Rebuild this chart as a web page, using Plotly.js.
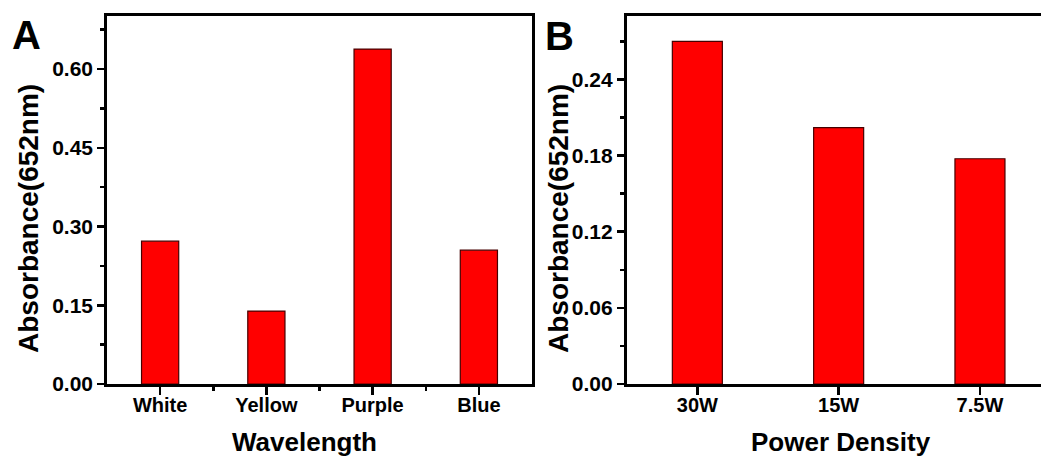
<!DOCTYPE html>
<html>
<head>
<meta charset="utf-8">
<script src="https://cdn.plot.ly/plotly-3.0.1.min.js"></script>
<style>
  html, body { margin: 0; padding: 0; background: #fff; }
  #chart { width: 1041px; height: 456px; }
</style>
</head>
<body>
<div id="chart"></div>
<script>
// Panel A: absorbance at 652 nm under different light wavelengths
const lightSources = ['White', 'Yellow', 'Purple', 'Blue'];
const absorbanceByLight = [0.272, 0.139, 0.638, 0.255];

// Panel B: absorbance at 652 nm under different power densities
const powerLevels = ['30W', '15W', '7.5W'];
const absorbanceByPower = [0.270, 0.202, 0.1775];

const yTicksA = [0, 0.15, 0.30, 0.45, 0.60];
const yTickTextA = ['0.00', '0.15', '0.30', '0.45', '0.60'];
const yTicksB = [0, 0.06, 0.12, 0.18, 0.24];
const yTickTextB = ['0.00', '0.06', '0.12', '0.18', '0.24'];

const FONT = 'Arial, "Liberation Sans", sans-serif';
const W = 1041, H = 456;
const px = v => v / W;
const py = v => (H - v) / H;

const idxA = lightSources.map((_, i) => i);
const idxB = powerLevels.map((_, i) => i);

const barStyle = {
  color: '#ff0000',
  line: { color: 'rgb(70,0,0)', width: 1.2 }
};

const traces = [
  {
    type: 'bar', x: idxA, y: absorbanceByLight, xaxis: 'x', yaxis: 'y',
    width: 0.35, marker: barStyle, hoverinfo: 'skip', showlegend: false
  },
  {
    type: 'bar', x: idxB, y: absorbanceByPower, xaxis: 'x2', yaxis: 'y2',
    width: 0.354, marker: barStyle, hoverinfo: 'skip', showlegend: false
  }
];

const tickFont = { family: FONT, size: 20, color: '#000', weight: 'bold' };
const yTickFont = { family: FONT, size: 21, color: '#000', weight: 'bold' };
const titleFont = { family: FONT, size: 26, color: '#000', weight: 'bold' };
const yTitleFont = { family: FONT, size: 28, color: '#000', weight: 'bold' };

const yDomain = [py(384), py(16)];

const layout = {
  width: W, height: H,
  margin: { l: 0, r: 0, t: 0, b: 0, pad: 0 },
  paper_bgcolor: '#fff', plot_bgcolor: '#fff',
  bargap: 0,
  xaxis: {
    domain: [px(107), px(532)], anchor: 'y',
    type: 'linear', range: [-0.5, 3.5],
    tickmode: 'array', tickvals: idxA, ticktext: lightSources,
    ticks: 'outside', ticklen: 8, tickwidth: 2.5, tickcolor: '#000',
    ticklabelstandoff: -7,
    minor: { tickmode: 'array', tickvals: [0.5, 1.5, 2.5], ticks: 'outside', ticklen: 4, tickwidth: 2.5, tickcolor: '#000' },
    showline: true, linewidth: 2.8, linecolor: '#000', mirror: true,
    showgrid: false, zeroline: false, tickfont: tickFont
  },
  yaxis: {
    domain: yDomain, anchor: 'x',
    range: [0, 0.701],
    tickmode: 'array', tickvals: yTicksA, ticktext: yTickTextA,
    ticks: 'outside', ticklen: 7, tickwidth: 2.5, tickcolor: '#000',
    minor: { tickmode: 'linear', tick0: 0.075, dtick: 0.15, ticks: 'outside', ticklen: 4, tickwidth: 2.5, tickcolor: '#000' },
    showline: true, linewidth: 2.8, linecolor: '#000', mirror: true,
    showgrid: false, zeroline: false, tickfont: yTickFont
  },
  xaxis2: {
    domain: [px(626.7), 1], anchor: 'y2',
    type: 'linear', range: [-0.5, 2.432],
    tickmode: 'array', tickvals: idxB, ticktext: powerLevels,
    ticks: 'outside', ticklen: 8, tickwidth: 2.5, tickcolor: '#000',
    ticklabelstandoff: -7,
    showline: true, linewidth: 2.8, linecolor: '#000', mirror: true,
    showgrid: false, zeroline: false, tickfont: tickFont
  },
  yaxis2: {
    domain: yDomain, anchor: 'x2',
    range: [0, 0.29],
    tickmode: 'array', tickvals: yTicksB, ticktext: yTickTextB,
    ticks: 'outside', ticklen: 7, tickwidth: 2.5, tickcolor: '#000',
    minor: { tickmode: 'linear', tick0: 0.03, dtick: 0.06, ticks: 'outside', ticklen: 4, tickwidth: 2.5, tickcolor: '#000' },
    showline: true, linewidth: 2.8, linecolor: '#000', mirror: false,
    showgrid: false, zeroline: false, tickfont: yTickFont
  },
  annotations: [
    { text: 'A', x: px(26), y: py(35), xref: 'paper', yref: 'paper', showarrow: false,
      xanchor: 'center', yanchor: 'middle', font: { family: FONT, size: 40, color: '#000', weight: 'bold' } },
    { text: 'B', x: px(559), y: py(36), xref: 'paper', yref: 'paper', showarrow: false,
      xanchor: 'center', yanchor: 'middle', font: { family: FONT, size: 40, color: '#000', weight: 'bold' } },
    { text: 'Absorbance(652nm)', x: px(28), y: py(219), xref: 'paper', yref: 'paper', showarrow: false,
      textangle: -90, xanchor: 'center', yanchor: 'middle', font: yTitleFont },
    { text: 'Absorbance(652nm)', x: px(558), y: py(219), xref: 'paper', yref: 'paper', showarrow: false,
      textangle: -90, xanchor: 'center', yanchor: 'middle', font: yTitleFont },
    { text: 'Wavelength', x: px(304.5), y: py(442), xref: 'paper', yref: 'paper', showarrow: false,
      xanchor: 'center', yanchor: 'middle', font: titleFont },
    { text: 'Power Density', x: px(840.5), y: py(442), xref: 'paper', yref: 'paper', showarrow: false,
      xanchor: 'center', yanchor: 'middle', font: titleFont }
  ]
};

Plotly.newPlot('chart', traces, layout, { staticPlot: true, displayModeBar: false });
</script>
</body>
</html>
